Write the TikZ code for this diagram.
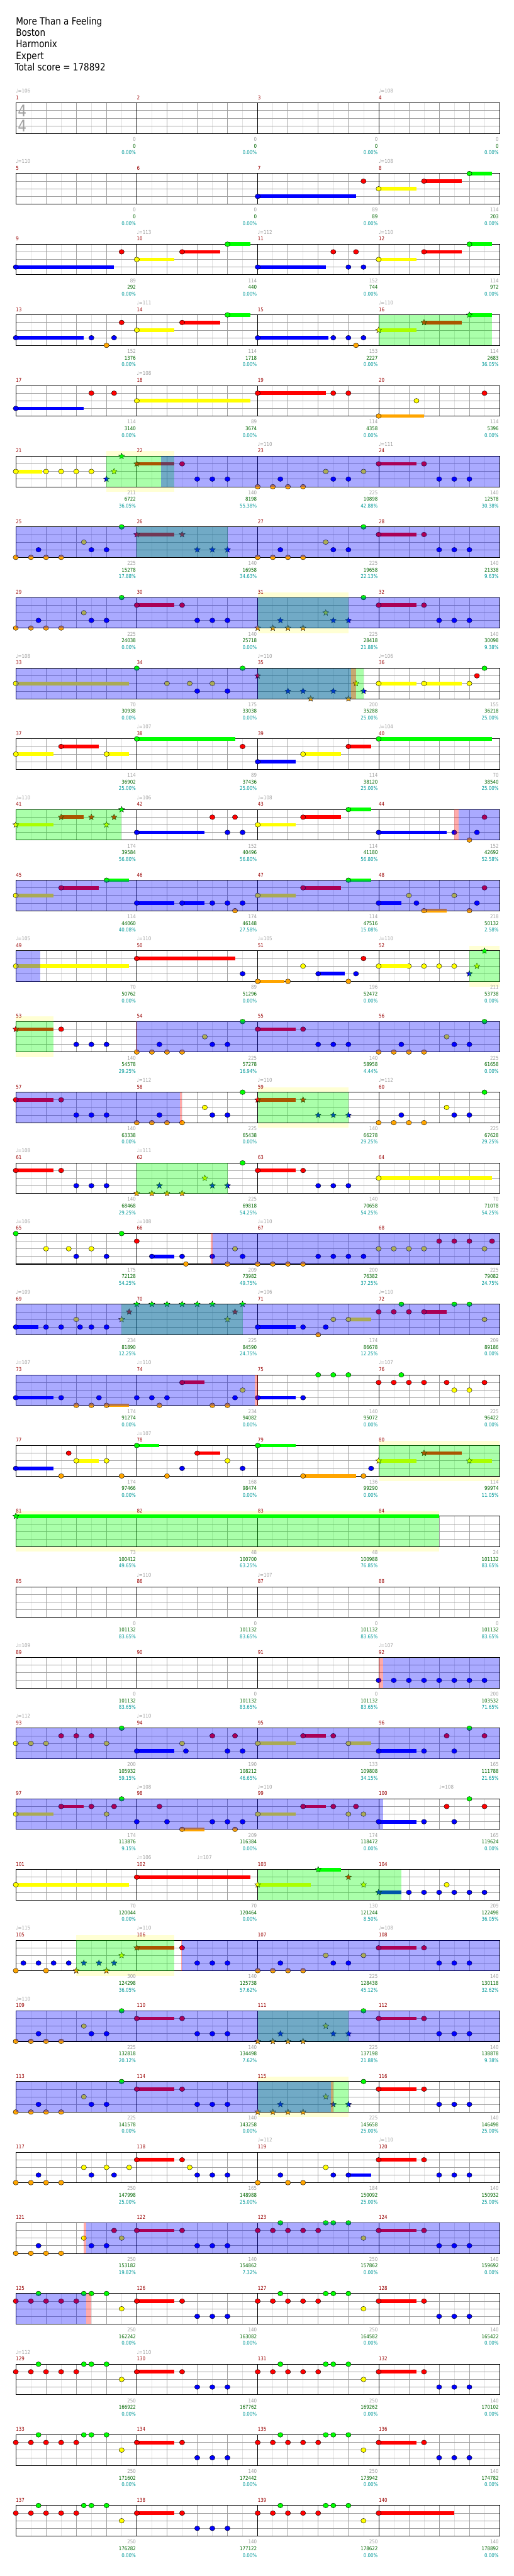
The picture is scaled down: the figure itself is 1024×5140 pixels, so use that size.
\documentclass[tikz,border=0pt]{standalone}
\usepackage{fontspec}
\setmainfont{DejaVu Sans}[FakeStretch=0.85]
\usetikzlibrary{shapes.geometric}
\definecolor{c0}{HTML}{00FF00}
\definecolor{c1}{HTML}{FF0000}
\definecolor{c2}{HTML}{FFFF00}
\definecolor{c3}{HTML}{0000FF}
\definecolor{c4}{HTML}{FFA500}
\definecolor{paleY}{HTML}{FFFFD4}
\definecolor{lightG}{HTML}{E2E2E2}
\definecolor{midG}{HTML}{A0A0A0}
\definecolor{mred}{HTML}{990000}
\definecolor{ngray}{HTML}{A0A0A0}
\definecolor{ngreen}{HTML}{006600}
\definecolor{nteal}{HTML}{009999}
\tikzset{
 nt/.style={ellipse,draw=black,line width=0.5pt,minimum width=10.5pt,minimum height=9.5pt,inner sep=0pt},
 st/.style={star,star points=5,star point ratio=2.2,draw=black,line width=0.45pt,minimum size=12.5pt,inner sep=0pt},
 lgrid/.style={draw=lightG,line width=0.6pt},
 bgrid/.style={draw=midG,line width=0.8pt},
 mgrid/.style={draw=black,line width=0.7pt},
 border/.style={draw=black,line width=1.3pt},
 mnum/.style={anchor=base west,inner sep=0pt,text=mred,font=\fontsize{10.5}{12}\selectfont},
 tempo/.style={anchor=base west,inner sep=0pt,text=ngray,font=\fontsize{10.5}{12}\selectfont},
 ng/.style={anchor=base east,inner sep=0pt,text=ngray,font=\fontsize{10.5}{12}\selectfont},
 nG/.style={anchor=base east,inner sep=0pt,text=ngreen,font=\fontsize{10.5}{12}\selectfont},
 nT/.style={anchor=base east,inner sep=0pt,text=nteal,font=\fontsize{10.5}{12}\selectfont},
 ttl/.style={anchor=base west,inner sep=0pt,font=\fontsize{20}{23}\selectfont},
 tsig/.style={inner sep=0pt,text=midG,font=\fontsize{32}{34}\selectfont}
}
\newcommand\R[1]{\pgfmathsetmacro\rowy{205.3+141*#1}\pgfmathtruncatemacro\rowm{4*#1}}
\newcommand\G{%
 \fill[white] (31.5,\rowy) rectangle (996.5,\rowy+61);
 \foreach \i in {1,3,...,31}{\draw[lgrid] ({31.5+\i*30.15625},\rowy) -- ++(0,61);}
 \foreach \i in {1,2,3,5,6,7,9,10,11,13,14,15}{\draw[bgrid] ({31.5+\i*60.3125},\rowy) -- ++(0,61);}
 \foreach \i in {1,2,3}{\draw[bgrid] (31.5,{\rowy+15.2*\i}) -- (996.5,{\rowy+15.2*\i});}
 \foreach \i in {4,8,12}{\draw[mgrid] ({31.5+\i*60.3125},\rowy) -- ++(0,61);}
 \draw[border] (31.5,\rowy) rectangle (996.5,\rowy+61);
 \foreach \j in {1,...,4}{\pgfmathtruncatemacro\mm{\rowm+\j}\node[mnum] (m\mm) at ({31.5+(\j-1)*241.25},\rowy-7) {\mm};}
}
\newcommand\Nm[2]{\foreach \bb in {#2}{\node[nt,fill=c#1] at ({31.5+\bb*60.3125},{\rowy+15.2*#1}) {};}}
\newcommand\Sm[2]{\foreach \bb in {#2}{\node[st,fill=c#1] at ({31.5+\bb*60.3125},{\rowy+15.2*#1}) {};}}
\newcommand\Ns[3]{\fill[c#1] ({31.5+(#2)*60.3125},{\rowy+15.2*#1-3.6}) rectangle ({31.5+(#2+#3)*60.3125},{\rowy+15.2*#1+3.6});\Nm{#1}{#2}}
\newcommand\Ss[3]{\fill[c#1] ({31.5+(#2)*60.3125},{\rowy+15.2*#1-3.6}) rectangle ({31.5+(#2+#3)*60.3125},{\rowy+15.2*#1+3.6});\Sm{#1}{#2}}
\newcommand\Ov[3]{\fill[#1,opacity=0.333] ({31.5+(#2)*60.3125},\rowy) rectangle ({31.5+(#3)*60.3125},\rowy+61);}
\newcommand\ovG[2]{\Ov{c0}{#1}{#2}}
\newcommand\ovB[2]{\Ov{c3}{#1}{#2}}
\newcommand\ovR[2]{\Ov{c1}{#1}{#2}}
\newcommand\ovY[2]{\fill[paleY] ({31.5+(#1)*60.3125},\rowy-10) rectangle ({31.5+(#2)*60.3125},\rowy+71);}
\newcommand\Tp[2]{\node[tempo] at ({31.5+(#1)*60.3125},\rowy-20.3) {♩=#2};}
\newcommand\QQ[1]{\foreach \qa/\qb/\qc [count=\qj] in {#1}{%
 \node[ng] at ({31.5+\qj*241.25-1.5},\rowy+76.4) {\qa};
 \node[nG] at ({31.5+\qj*241.25-1.5},\rowy+89.7) {\qb};
 \node[nT] at ({31.5+\qj*241.25-1.5},\rowy+103) {\qc\%};}}
\newcommand\PatA{\Nm{4}{0,.5,1,1.5}\Nm{3}{.75,2.5,3,6,6.5,7,14,14.5,15}\Nm{2}{2.25}\Nm{0}{3.5,11.5}\Ns{1}{4}{1.25}\Nm{1}{5.5,13.5}\Sm{4}{8,8.5,9,9.5}\Sm{3}{8.75,10.5,11}\Sm{2}{10.25}\Ns{1}{12}{1.25}}
\newcommand\PatB{\Nm{1}{0,.5,1,1.5,2,5.5,8,8.5,9,9.5,10,13.5}\Nm{0}{.75,2.25,2.5,3,8.75,10.25,10.5,11}\Nm{2}{3.5,11.5}\Ns{1}{4}{1.25}\Nm{3}{6,6.5,7,14,14.5,15}\Ns{1}{12}{1.25}}
\begin{document}
\begin{tikzpicture}[x=1pt,y=-1pt]
\useasboundingbox (0,0) rectangle (1024,5140);
\fill[white] (0,0) rectangle (1024,5140);
\node[ttl] (t1) at (31.5,49.5) {More Than a Feeling};
\node[ttl] (t2) at (31.5,72.3) {Boston};
\node[ttl] (t3) at (31.5,95) {Harmonix};
\node[ttl] (t4) at (31.5,118) {Expert};
\node[ttl] (t5) at (29.5,141) {Total score = 178892};
% row 0
\R{0}\G
\node[tsig] (ts1) at (44.3,221.7) {4};
\node[tsig] (ts2) at (44.3,251.7) {4};
\Tp{0}{106}\Tp{12}{108}
\QQ{0/0/0.00,0/0/0.00,0/0/0.00,0/0/0.00}
% row 1
\R{1}\G\Tp{0}{110}\Tp{12}{108}
\Ns{3}{8}{3.25}\Nm{1}{11.5}\Ns{2}{12}{1.25}\Ns{1}{13.5}{1.25}\Ns{0}{15}{.75}
\QQ{0/0/0.00,0/0/0.00,89/89/0.00,114/203/0.00}
% row 2
\R{2}\G\Tp{4}{113}\Tp{8}{112}\Tp{12}{110}
\Ns{3}{0}{3.25}\Nm{1}{3.5}\Ns{2}{4}{1.25}\Ns{1}{5.5}{1.25}\Ns{0}{7}{.75}\Ns{3}{8}{2.25}\Nm{1}{10.5,11.25}\Nm{3}{11,11.5}\Ns{2}{12}{1.25}\Ns{1}{13.5}{1.25}\Ns{0}{15}{.75}
\QQ{89/292/0.00,114/440/0.00,152/744/0.00,114/972/0.00}
% row 3
\R{3}\G\Tp{4}{111}\Tp{12}{110}
\Ns{3}{0}{2.25}\Nm{3}{2.5,3.25}\Nm{4}{3}\Nm{1}{3.5}\Ns{2}{4}{1.25}\Ns{1}{5.5}{1.25}\Ns{0}{7}{.75}\Ns{3}{8}{2.33}\Nm{3}{10.5,11,11.5}\Nm{4}{11.25}\Ss{2}{12}{1.25}\Ss{1}{13.5}{1.25}\Ss{0}{15}{.75}
\ovG{12}{15.75}
\QQ{152/1376/0.00,114/1718/0.00,153/2227/0.00,114/2683/36.05}
% row 4
\R{4}\G\Tp{4}{108}
\Ns{3}{0}{2.25}\Nm{1}{2.5,3.25}\Ns{2}{4}{3.75}\Ns{1}{8}{2.25}\Nm{1}{10.5,11,15.5}\Ns{4}{12}{1.5}\Nm{2}{13.25}
\QQ{114/3140/0.00,89/3674/0.00,114/4358/0.00,114/5396/0.00}
% row 5
\R{5}\ovY{3}{5.25}\G\Tp{8}{110}\Tp{12}{111}
\Ns{2}{0}{.875}\Nm{2}{1,1.5,2,2.5}\Sm{3}{3}\Sm{2}{3.25}\Sm{0}{3.5}\Ss{1}{4}{1.25}\Nm{1}{5.5}\Nm{3}{6,6.5,7,8.75,10.5,11,14,14.5,15}\Nm{4}{8,8.5,9,9.5}\Nm{2}{10.25,11.5}\Ns{1}{12}{1.25}\Nm{1}{13.5}
\ovG{3}{5.25}\ovB{4.81}{16}
\QQ{211/6722/36.05,140/8198/55.38,225/10898/42.88,140/12578/30.38}
% row 6
\R{6}\G
\Nm{4}{0,.5,1,1.5,8,8.5,9,9.5}\Nm{3}{.75,2.5,3,8.75,10.5,11,14,14.5,15}\Nm{2}{2.25,10.25}\Nm{0}{3.5,11.5}\Ss{1}{4}{1.25}\Sm{1}{5.5}\Sm{3}{6,6.5,7}\Ns{1}{12}{1.25}\Nm{1}{13.5}
\ovG{4}{7}\ovB{0}{16}
\QQ{225/15278/17.88,140/16958/34.63,225/19658/22.13,140/21338/9.63}
% row 7
\R{7}\ovY{8}{11}\G
\PatA
\ovG{8}{11}\ovB{0}{16}
\QQ{225/24038/0.00,140/25718/0.00,225/28418/21.88,140/30098/9.38}
% row 8
\R{8}\G\Tp{0}{108}\Tp{8}{110}\Tp{12}{106}
\Ns{2}{0}{3.75}\Nm{0}{4,7.5,15.5}\Nm{2}{5,5.75,6.5,15}\Nm{3}{6,7}\Sm{1}{8}\Sm{3}{9,9.5,10.5,11.5}\Sm{4}{9.75,11}\Sm{2}{11.25}\Ns{2}{12}{1.25}\Ns{2}{13.5}{1.25}\Nm{1}{15.25}
\ovG{8}{11.5}\ovB{0}{11.08}\ovR{11.08}{11.25}
\QQ{70/30938/0.00,175/33038/0.00,200/35288/25.00,155/36218/25.00}
% row 9
\R{9}\G\Tp{4}{107}\Tp{12}{104}
\Ns{2}{0}{1.25}\Ns{1}{1.5}{1.25}\Ns{2}{3}{.75}\Ns{0}{4}{3.25}\Nm{1}{7.5}\Ns{3}{8}{1.25}\Ns{2}{9.5}{1.25}\Ns{1}{11}{.75}\Ns{0}{12}{3.75}
\QQ{114/36902/25.00,89/37436/25.00,114/38120/25.00,70/38540/25.00}
% row 10
\R{10}\G\Tp{0}{110}\Tp{4}{106}\Tp{8}{108}
\Ss{2}{0}{1.25}\Ss{1}{1.5}{.75}\Sm{1}{2.5,3.25}\Sm{2}{3}\Sm{0}{3.5}\Ns{3}{4}{2.25}\Nm{1}{6.5,7.25}\Nm{3}{7,7.5}\Ns{2}{8}{1.25}\Ns{1}{9.5}{1.25}\Ns{0}{11}{.75}\Ns{3}{12}{2.25}\Nm{3}{14.5,15.25}\Nm{4}{15}\Nm{1}{15.5}
\ovG{0}{3.5}\ovR{14.5}{14.65}\ovB{14.65}{16}
\QQ{174/39584/56.80,152/40496/56.80,114/41180/56.80,152/42692/52.58}
% row 11
\R{11}\G
\Ns{2}{0}{1.25}\Ns{1}{1.5}{1.25}\Ns{0}{3}{.75}\Ns{3}{4}{1.25}\Ns{3}{5.5}{.75}\Nm{3}{6.5,7,7.5,13.25,15.25}\Nm{4}{7.25,15}\Ns{2}{8}{1.25}\Ns{1}{9.5}{1.25}\Ns{0}{11}{.75}\Ns{3}{12}{.75}\Nm{2}{13,14.5}\Ns{4}{13.5}{.75}\Nm{1}{15.5}
\ovB{0}{16}
\QQ{114/44060/40.08,174/46148/27.58,114/47516/15.08,218/50132/2.58}
% row 12
\R{12}\ovY{15}{16}\G\Tp{0}{105}\Tp{4}{110}\Tp{8}{105}\Tp{12}{110}
\Ns{2}{0}{3.75}\Ns{1}{4}{3.25}\Nm{3}{7.5,11.25}\Ns{4}{8}{.875}\Nm{4}{9,11}\Nm{2}{9.5,13,13.5,14,14.5}\Ns{3}{10}{.875}\Nm{1}{11.5}\Ns{2}{12}{1}\Sm{3}{15}\Sm{2}{15.25}\Sm{0}{15.5}
\ovB{0}{.8}\ovG{15}{16}
\QQ{70/50762/0.00,89/51296/0.00,196/52472/0.00,211/53738/0.00}
% row 13
\R{13}\ovY{0}{1.25}\G
\Ss{1}{0}{1.25}\Nm{1}{1.5,9.5}\Nm{3}{2,2.5,3,4.75,6.5,7,10,10.5,11,12.75,14.5,15}\Nm{4}{4,4.5,5,5.5,12,12.5,13,13.5}\Nm{2}{6.25,14.25}\Nm{0}{7.5,15.5}\Ns{1}{8}{1.25}
\ovG{0}{1.25}\ovR{3.97}{4}\ovB{4}{16}
\QQ{140/54578/29.25,225/57278/16.94,140/58958/4.44,225/61658/0.00}
% row 14
\R{14}\ovY{8}{11}\G\Tp{4}{112}\Tp{8}{110}\Tp{12}{112}
\Ns{1}{0}{1.25}\Nm{1}{1.5}\Nm{3}{2,2.5,3,4.75,6.5,7,12.75,14.5,15}\Nm{4}{4,4.5,5,5.5,12,12.5,13,13.5}\Nm{2}{6.25,14.25}\Nm{0}{7.5,15.5}\Ss{1}{8}{1.25}\Sm{1}{9.5}\Sm{3}{10,10.5,11}
\ovG{8}{11}\ovB{0}{5.42}\ovR{5.42}{5.5}
\QQ{140/63338/0.00,225/65438/0.00,140/66278/29.25,225/67628/29.25}
% row 15
\R{15}\G\Tp{0}{108}\Tp{4}{111}
\Ns{1}{0}{1.25}\Nm{1}{1.5,9.5}\Nm{3}{2,2.5,3,10,10.5,11}\Sm{4}{4,4.5,5,5.5}\Sm{3}{4.75,6.5,7}\Sm{2}{6.25}\Nm{0}{7.5}\Ns{1}{8}{1.25}\Ns{2}{12}{3.75}
\ovG{4}{7}
\QQ{140/68468/29.25,225/69818/54.25,140/70658/54.25,70/71078/54.25}
% row 16
\R{16}\G\Tp{0}{106}\Tp{4}{108}\Tp{8}{110}
\Nm{0}{0,3.5}\Nm{2}{1,1.75,2.5,7.25,12,12.5,13,13.5,15.5}\Nm{3}{2,3,5.5,6.5,7.5,10,10.5,11,11.5}\Nm{1}{4,14,14.5,15,15.75}\Ns{3}{4.5}{.75}\Nm{4}{5.625,7,8,8.5,9,9.5}
\ovR{6.45}{6.5}\ovB{6.5}{16}
\QQ{175/72128/54.25,209/73982/49.75,200/76382/37.25,225/79082/24.75}
% row 17
\R{17}\G\Tp{0}{109}\Tp{8}{106}\Tp{12}{110}
\Ns{3}{0}{.75}\Nm{3}{1,1.5,2.125,2.5,3,9.5,10.25}\Nm{2}{2,10.5,15.5}\Sm{2}{3.5,7}\Sm{1}{3.75,7.25}\Sm{0}{4,4.5,5,5.5,6,6.5,7.5}\Ns{3}{8}{1.25}\Nm{4}{10}\Ns{2}{11}{.75}\Nm{1}{12,12.5,13}\Ns{1}{13.5}{.75}\Nm{0}{12.75,14.5,15}
\ovG{3.5}{7.5}\ovB{0}{16}
\QQ{234/81890/12.25,225/84590/24.75,174/86678/12.25,209/89186/0.00}
% row 18
\R{18}\G\Tp{0}{107}\Tp{4}{110}\Tp{12}{107}
\Ns{3}{0}{1.25}\Nm{3}{1.5,2.75,4,4.5,5,7.25,9.5}\Nm{4}{2,2.5,4.75,6.5,7}\Ns{4}{3}{.75}\Ns{1}{5.5}{.75}\Nm{2}{7.5,14.5,15}\Ns{3}{8}{1.25}\Nm{0}{10,10.5,11,12.75}\Nm{1}{12,12.5,13,13.5,14.25,15.5}
\ovB{0}{7.91}\ovR{7.91}{8}
\QQ{174/91274/0.00,234/94082/0.00,140/95072/0.00,225/96422/0.00}
% row 19
\R{19}\ovY{12}{16}\G\Tp{4}{107}
\Ns{3}{0}{1.25}\Nm{4}{1.5,3.5,5,11.5}\Nm{1}{1.75}\Ns{2}{2}{.75}\Nm{2}{3,7}\Ns{0}{4}{.75}\Nm{3}{5.5,7.5,11.75}\Ns{1}{6}{.75}\Ns{0}{8}{1.25}\Ns{4}{9.5}{1.75}\Ss{2}{12}{1.25}\Ss{1}{13.5}{1.25}\Ss{2}{15}{.75}
\ovG{12}{16}
\QQ{174/97466/0.00,168/98474/0.00,136/99290/0.00,114/99974/11.05}
% row 20
\R{20}\ovY{0}{14}\G
\Ss{0}{0}{14}
\ovG{0}{14}
\QQ{73/100412/49.65,48/100700/63.25,48/100988/76.85,24/101132/83.65}
% row 21
\R{21}\G\Tp{4}{110}\Tp{8}{107}
\QQ{0/101132/83.65,0/101132/83.65,0/101132/83.65,0/101132/83.65}
% row 22
\R{22}\G\Tp{0}{109}\Tp{12}{107}
\Nm{3}{12,12.5,13,13.5,14,14.5,15,15.5}
\ovR{12}{12.15}\ovB{12.15}{16}
\QQ{0/101132/83.65,0/101132/83.65,0/101132/83.65,200/103532/71.65}
% row 23
\R{23}\G\Tp{0}{112}\Tp{4}{110}
\Nm{2}{0,.5,1,3,5.5}\Nm{1}{1.5,2,2.5,6.5,7.25,10.5,14.25,15.5}\Nm{0}{3.5,15}\Ns{3}{4}{1.25}\Nm{3}{5.625,7,7.5,13.5,14.5}\Ns{2}{8}{1.25}\Ns{1}{9.5}{.75}\Ns{2}{11}{.75}\Ns{3}{12}{1.25}
\ovB{0}{16}
\QQ{200/105932/59.15,190/108212/46.65,133/109808/34.15,165/111788/21.65}
% row 24
\R{24}\G\Tp{4}{108}\Tp{8}{110}\Tp{14}{108}
\Ns{2}{0}{1.25}\Ns{1}{1.5}{.75}\Nm{1}{2.5,3.25,4.75,10.5,11.25,14.25,15.5}\Nm{2}{3,11,11.5}\Nm{0}{3.5,15}\Nm{3}{4,5,6.5,7,7.5,13.5,14.5}\Ns{4}{5.5}{.75}\Nm{4}{7.25}\Ns{2}{8}{1.25}\Ns{1}{9.5}{.75}\Ns{3}{12}{1.25}
\ovB{0}{12.15}
\QQ{174/113876/9.15,209/116384/0.00,174/118472/0.00,165/119624/0.00}
% row 25
\R{25}\G\Tp{4}{106}\Tp{6}{107}
\Ns{2}{0}{3.75}\Ns{1}{4}{3.75}\Ss{2}{8}{1.75}\Ss{0}{10}{.75}\Sm{1}{11}\Sm{2}{11.5}\Ss{3}{12}{.75}\Nm{3}{13,13.5,14,14.5,15,15.5}\Nm{2}{14.25}
\ovG{8}{12.75}
\QQ{70/120044/0.00,70/120464/0.00,130/121244/8.50,209/122498/36.05}
% row 26
\R{26}\ovY{2}{5.25}\G\Tp{0}{115}\Tp{4}{110}\Tp{12}{108}
\Nm{4}{0,1,8,8.5,9,9.5}\Nm{3}{.25,.75,1.25,1.75,6,6.5,7,8.75,10.5,11,14,14.5,15}\Sm{4}{2,3}\Sm{3}{2.25,2.75,3.25}\Sm{2}{3.5}\Ss{1}{4}{1.25}\Nm{1}{5.5,13.5}\Nm{2}{10.25,11.5}\Ns{1}{12}{1.25}
\ovG{2}{5.25}\ovR{5.47}{5.5}\ovB{5.5}{16}
\QQ{300/124298/36.05,140/125738/57.62,225/128438/45.12,140/130118/32.62}
% row 27
\R{27}\G\Tp{0}{110}
\PatA
\ovG{8}{11}\ovB{0}{16}
\QQ{225/132818/20.12,140/134498/7.62,225/137198/21.88,140/138878/9.38}
% row 28
\R{28}\ovY{8}{11}\G
\PatA
\ovG{8}{11}\ovB{0}{10.42}\ovR{10.42}{10.5}
\QQ{225/141578/0.00,140/143258/0.00,225/145658/25.00,140/146498/25.00}
% row 29
\R{29}\G\Tp{8}{112}\Tp{12}{110}
\Nm{4}{0,.5,1,1.5,8,9,9.5}\Nm{3}{.75,2.5,3.25,6,6.5,7,8.75,10.5,14,14.5,15}\Nm{2}{2.25,3,3.75,5.75,10.25}\Ns{1}{4}{1.25}\Nm{1}{5.5,13.5}\Ns{3}{11}{.75}\Ns{1}{12}{1.25}
\QQ{250/147998/25.00,165/148988/25.00,184/150092/25.00,140/150932/25.00}
% row 30
\R{30}\G
\Nm{4}{0,.5,1,1.5}\Nm{3}{.75,2.5,3,6,6.5,7,14,14.5,15}\Nm{2}{2.25,3.5,11.5}\Nm{1}{3.25,5.5,8,8.5,9,9.5,10,13.5}\Ns{1}{4}{1.25}\Nm{0}{8.75,10.25,10.5,11}\Ns{1}{12}{1.25}
\ovR{2.25}{2.33}\ovB{2.33}{16}
\QQ{250/153182/19.82,140/154862/7.32,250/157862/0.00,140/159692/0.00}
% row 31
\R{31}\G
\PatB
\ovB{0}{2.33}\ovR{2.33}{2.5}
\QQ{250/162242/0.00,140/163082/0.00,250/164582/0.00,140/165422/0.00}
% row 32
\R{32}\G\Tp{0}{112}\Tp{4}{110}
\PatB
\QQ{250/166922/0.00,140/167762/0.00,250/169262/0.00,140/170102/0.00}
% row 33
\R{33}\G
\PatB
\QQ{250/171602/0.00,140/172442/0.00,250/173942/0.00,140/174782/0.00}
% row 34
\R{34}\G
\Nm{1}{0,.5,1,1.5,2,5.5,8,8.5,9,9.5,10}\Nm{0}{.75,2.25,2.5,3,8.75,10.25,10.5,11}\Nm{2}{3.5,11.5}\Ns{1}{4}{1.25}\Nm{3}{6,6.5,7}\Ns{1}{12}{2.5}
\QQ{250/176282/0.00,140/177122/0.00,250/178622/0.00,140/178892/0.00}
\end{tikzpicture}
\end{document}
